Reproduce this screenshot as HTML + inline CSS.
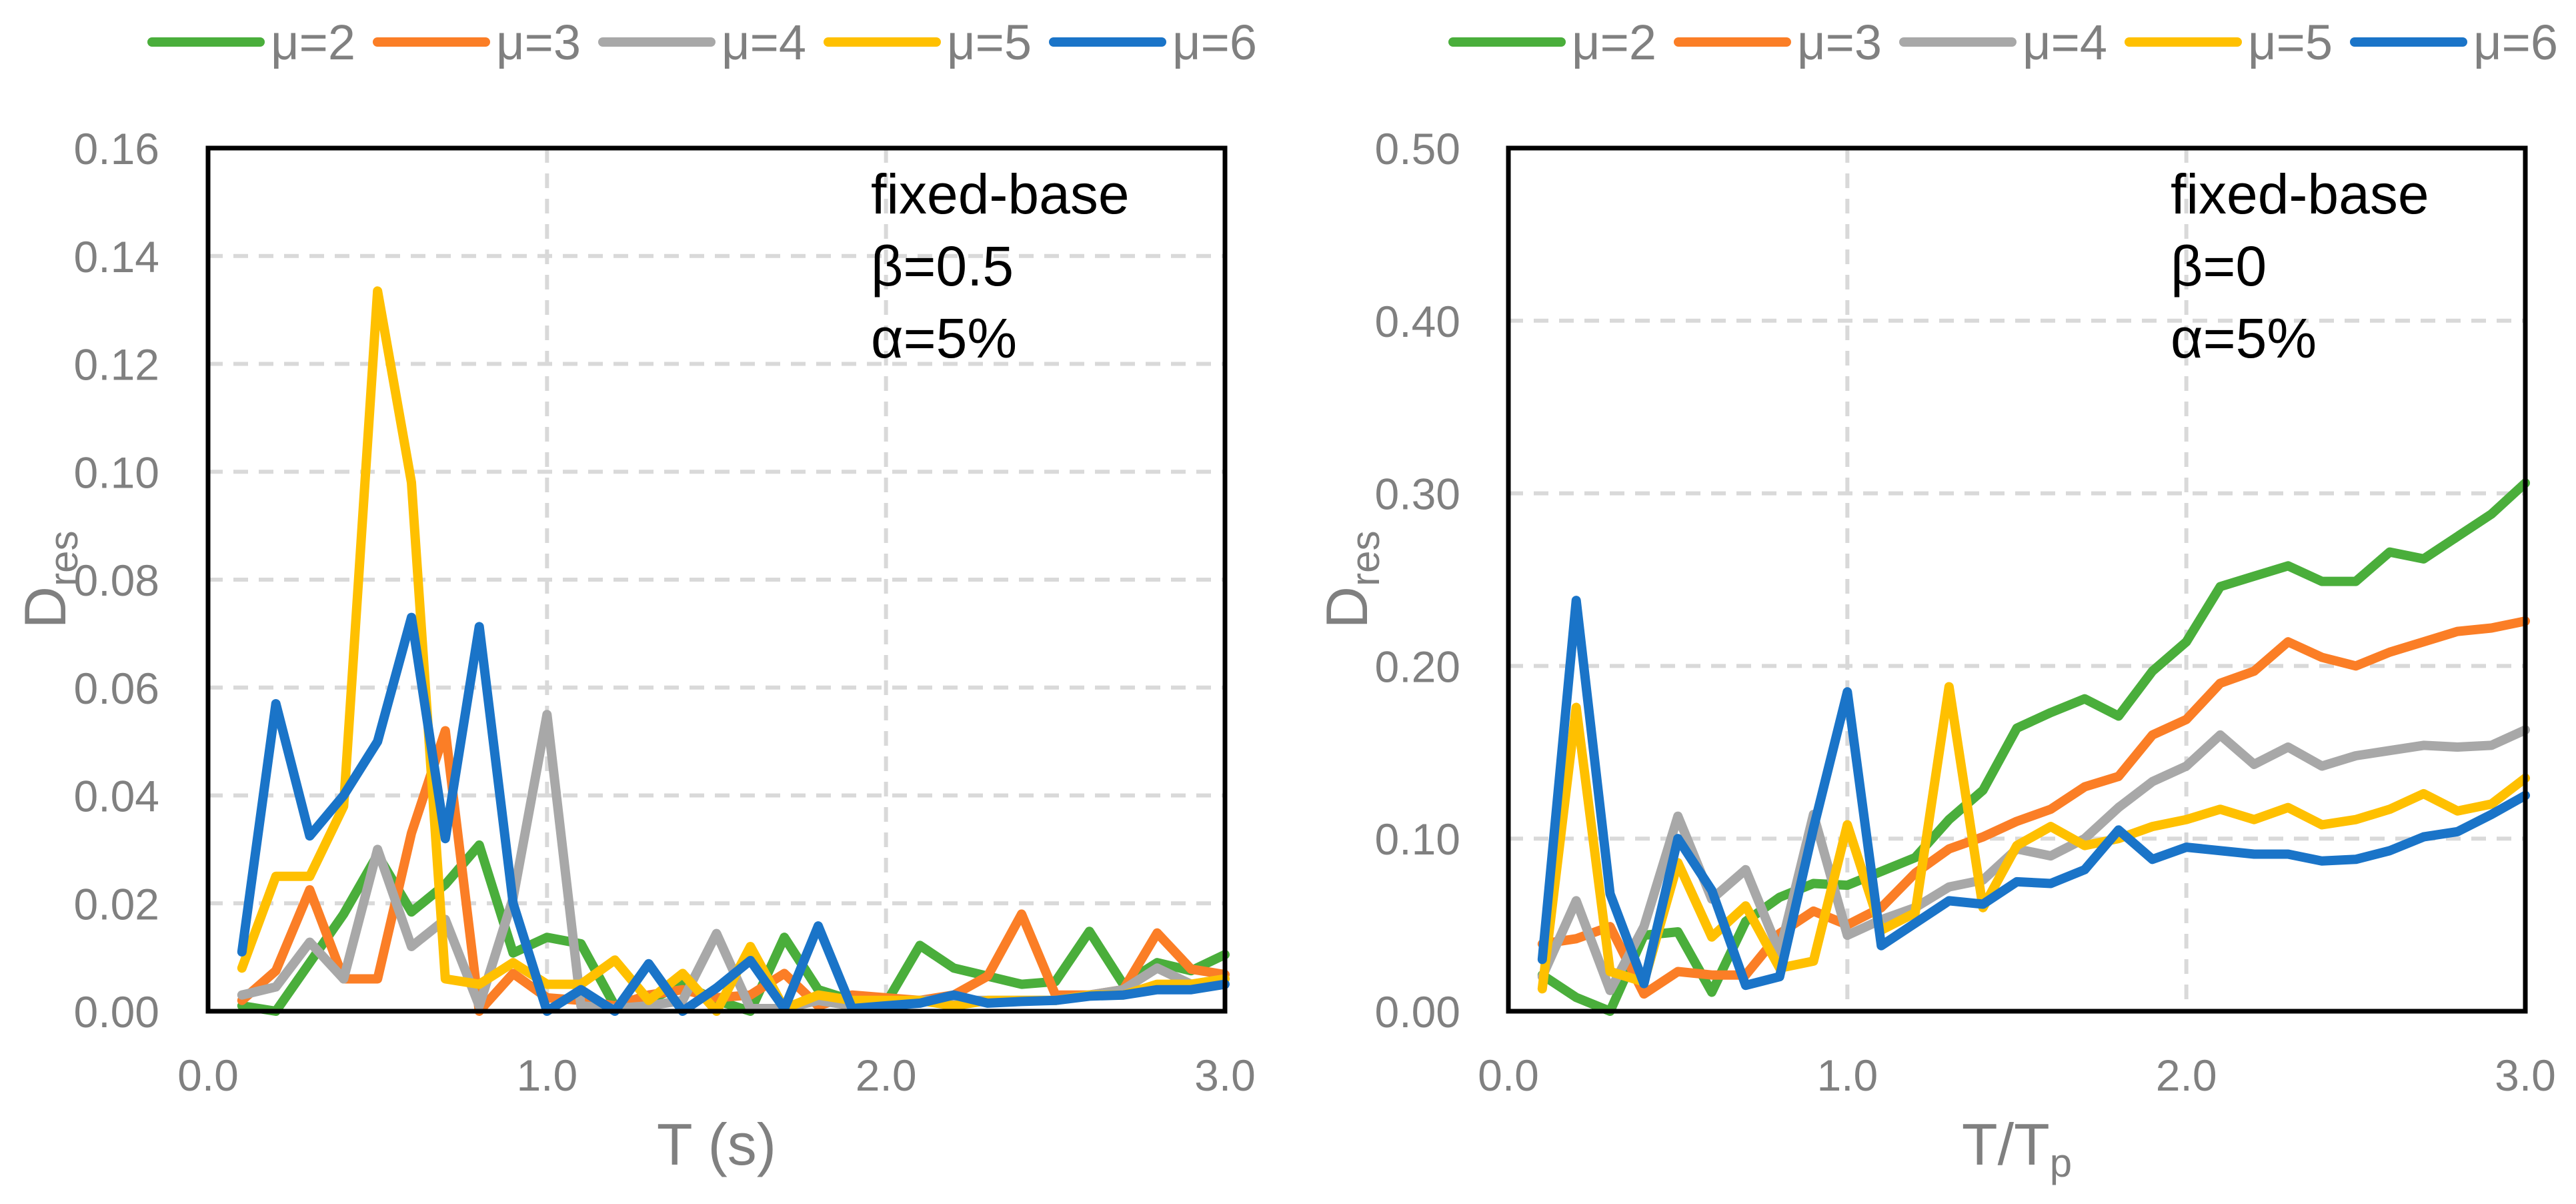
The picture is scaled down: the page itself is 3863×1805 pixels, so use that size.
<!DOCTYPE html>
<html><head><meta charset="utf-8"><style>
html,body{margin:0;padding:0;background:#fff;}
svg{display:block;font-family:"Liberation Sans",sans-serif;}
</style></head><body>
<svg id="chart" width="3863" height="1805" viewBox="0 0 3863 1805" xmlns="http://www.w3.org/2000/svg"></svg>
<script>
// ---- shared data ----
const xValues = [0.1,0.2,0.3,0.4,0.5,0.6,0.7,0.8,0.9,1.0,1.1,1.2,1.3,1.4,1.5,1.6,1.7,1.8,1.9,2.0,2.1,2.2,2.3,2.4,2.5,2.6,2.7,2.8,2.9,3.0];
const seriesNames = ["μ=2","μ=3","μ=4","μ=5","μ=6"];
const xTickLabels = ["0.0","1.0","2.0","3.0"];
const xTicks = [0,1,2,3];
// left chart (T (s))
const leftYTicks = [0,0.02,0.04,0.06,0.08,0.10,0.12,0.14,0.16];
const leftYTickLabels = ["0.00","0.02","0.04","0.06","0.08","0.10","0.12","0.14","0.16"];
const leftMu2 = [0.001,0,0.009,0.018,0.029,0.0184,0.0235,0.0308,0.0108,0.0137,0.0125,0.001,0.002,0.005,0.002,0,0.0137,0.004,0.002,0.0015,0.0122,0.008,0.0065,0.005,0.0055,0.0148,0.005,0.009,0.0075,0.0105];
const leftMu3 = [0.002,0.0075,0.0225,0.006,0.006,0.033,0.052,0,0.007,0.0025,0.002,0.001,0.003,0.004,0.0025,0.003,0.007,0.001,0.003,0.0025,0.002,0.003,0.0065,0.018,0.003,0.003,0.004,0.0145,0.0078,0.0068];
const leftMu4 = [0.003,0.0045,0.0128,0.006,0.030,0.012,0.017,0.001,0.021,0.055,0.001,0.0005,0.001,0.002,0.0144,0.0005,0.0005,0.002,0.001,0.0015,0.002,0.002,0.002,0.002,0.002,0.003,0.004,0.008,0.005,0.006];
const leftMu5 = [0.008,0.025,0.025,0.038,0.1335,0.098,0.006,0.005,0.009,0.005,0.005,0.0095,0.002,0.007,0,0.012,0.0005,0.003,0.002,0.002,0.002,0.001,0.002,0.002,0.002,0.003,0.003,0.005,0.005,0.006];
const leftMu6 = [0.011,0.057,0.0325,0.040,0.050,0.073,0.032,0.0713,0.020,0,0.004,0,0.0088,0,0.0043,0.0094,0.0005,0.0158,0.0005,0.001,0.0015,0.003,0.0015,0.0018,0.002,0.0028,0.003,0.004,0.004,0.005];
// right chart (T/Tp)
const rightYTicks = [0,0.1,0.2,0.3,0.4,0.5];
const rightYTickLabels = ["0.00","0.10","0.20","0.30","0.40","0.50"];
const rightMu2 = [0.021,0.008,0,0.044,0.046,0.011,0.052,0.066,0.074,0.073,0.081,0.089,0.111,0.128,0.164,0.173,0.181,0.171,0.197,0.214,0.246,0.252,0.258,0.249,0.249,0.266,0.262,0.275,0.288,0.306];
const rightMu3 = [0.039,0.042,0.049,0.010,0.023,0.021,0.021,0.045,0.058,0.050,0.060,0.080,0.094,0.101,0.110,0.117,0.130,0.136,0.160,0.169,0.190,0.197,0.214,0.205,0.200,0.208,0.214,0.220,0.222,0.226];
const rightMu4 = [0.020,0.064,0.012,0.049,0.113,0.065,0.082,0.034,0.114,0.044,0.053,0.060,0.072,0.076,0.094,0.090,0.100,0.118,0.133,0.142,0.160,0.143,0.153,0.142,0.148,0.151,0.154,0.153,0.154,0.163];
const rightMu5 = [0.013,0.176,0.023,0.017,0.086,0.043,0.061,0.025,0.029,0.108,0.047,0.057,0.188,0.060,0.096,0.107,0.096,0.100,0.107,0.111,0.117,0.111,0.118,0.108,0.111,0.117,0.126,0.116,0.120,0.135];
const rightMu6 = [0.030,0.238,0.068,0.016,0.100,0.070,0.015,0.020,0.106,0.185,0.038,0.051,0.064,0.062,0.075,0.074,0.082,0.105,0.088,0.095,0.093,0.091,0.091,0.087,0.088,0.093,0.101,0.104,0.114,0.125];

const colors = ["#4aae3b","#fb7e26","#a8a8a8","#ffc000","#1a74c8"];
const NS = "http://www.w3.org/2000/svg";
const svg = document.getElementById("chart");
function mk(tag, attrs, parent){
  const e = document.createElementNS(NS, tag);
  for (const k in attrs) e.setAttribute(k, attrs[k]);
  (parent||svg).appendChild(e);
  return e;
}

function drawPanel(cfg){
  const g = mk("g", {});
  
  
  const L=cfg.x0, R=cfg.x1, T=222, B=1516;
  const sx = v => L + (v-0)/(3-0)*(R-L);
  const sy = v => B - v/cfg.yMax*(B-T);
  // gridlines
  cfg.yTicks.forEach((t,i)=>{
    if(i>0 && i<cfg.yTicks.length-1){
      const l = mk("line",{x1:L,x2:R,y1:sy(t),y2:sy(t),stroke:"#d9d9d9","stroke-width":6,"stroke-dasharray":"22 16"},g);
      
      
    }
    const tx = mk("text",{x:cfg.labelRight,y:sy(t)+24,"text-anchor":"end","font-size":66,fill:"#808080"},g);
    tx.textContent = cfg.yTickLabels[i];
    
    
  });
  xTicks.forEach((t,i)=>{
    if(i>0 && i<xTicks.length-1){
      const l = mk("line",{x1:sx(t),x2:sx(t),y1:T,y2:B,stroke:"#d9d9d9","stroke-width":6,"stroke-dasharray":"22 16"},g);
      
      
    }
    const tx = mk("text",{x:sx(t),y:1635,"text-anchor":"middle","font-size":66,fill:"#808080"},g);
    tx.textContent = xTickLabels[i];
    
    
  });
  // series
  cfg.series.forEach((arr,si)=>{
    const pts = arr.map((v,i)=>sx(xValues[i]).toFixed(1)+","+sy(v).toFixed(1)).join(" ");
    const pl = mk("polyline",{points:pts,fill:"none",stroke:colors[si],"stroke-width":14,"stroke-linejoin":"round","stroke-linecap":"round"},g);
    
    
  });
  // frame
  const fr = mk("rect",{x:L,y:T,width:R-L,height:B-T,fill:"none",stroke:"#000","stroke-width":7},g);
  
  
  // legend
  seriesNames.forEach((n,i)=>{
    const lx = cfg.legendX + i*338;
    const ln = mk("line",{x1:lx,x2:lx+162,y1:63,y2:63,stroke:colors[i],"stroke-width":14,"stroke-linecap":"round"},g);
    
    
    const tx = mk("text",{x:lx+178,y:89,"font-size":74,fill:"#808080"},g);
    tx.textContent = n;
    
    
  });
  // annotation
  cfg.annot.forEach((s,i)=>{
    const tx = mk("text",{x:cfg.annotX,y:320+i*108,"font-size":84,fill:"#000"},g);
    tx.textContent = s;
    
    
  });
  // axis titles
  const xt = mk("text",{x:(L+R)/2,y:1746,"text-anchor":"middle","font-size":88,fill:"#808080"},g);
  
  
  if(cfg.sub){
    xt.textContent = "T/T";
    const ts = mk("tspan",{"font-size":60,dy:18},xt); ts.textContent="p";
  } else xt.textContent = "T (s)";
  const yt = mk("text",{x:0,y:0,"text-anchor":"middle","font-size":88,fill:"#808080",transform:"translate(98,"+((T+B)/2)+") rotate(-90)"},g);
  
  
  yt.textContent = "D";
  const ys = mk("tspan",{"font-size":60,dy:18},yt); ys.textContent="res";
  if(cfg.sub) yt.setAttribute("transform","translate("+(cfg.x0-212)+","+((T+B)/2)+") rotate(-90)");
}

drawPanel({name:"left-chart",x0:312,x1:1837,yMax:0.16,yTicks:leftYTicks,yTickLabels:leftYTickLabels,
  labelRight:239,legendX:228,annotX:1306,annot:["fixed-base","β=0.5","α=5%"],
  series:[leftMu2,leftMu3,leftMu4,leftMu5,leftMu6],sub:false});
drawPanel({name:"right-chart",x0:2262,x1:3787,yMax:0.5,yTicks:rightYTicks,yTickLabels:rightYTickLabels,
  labelRight:2190,legendX:2179,annotX:3255,annot:["fixed-base","β=0","α=5%"],
  series:[rightMu2,rightMu3,rightMu4,rightMu5,rightMu6],sub:true});
</script>
</body></html>
